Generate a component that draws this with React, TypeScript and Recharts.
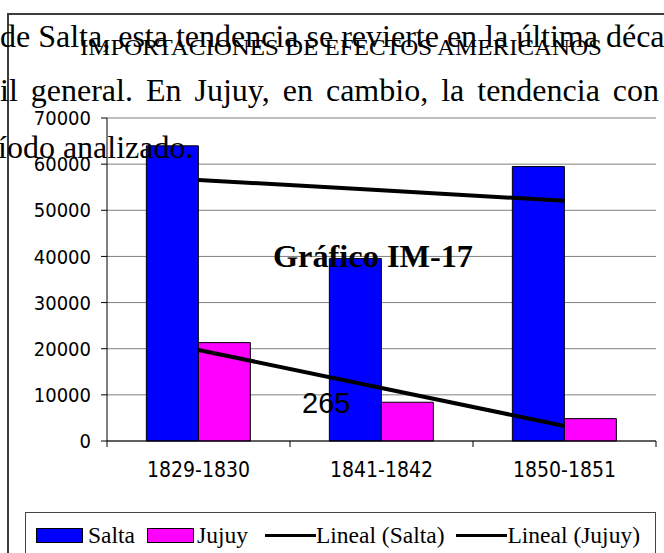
import { ComposedChart, Bar, Line, XAxis, YAxis, CartesianGrid, Legend } from "recharts";

// values
const periods = ["1829-1830", "1841-1842", "1850-1851"];
const salta = [63970, 39530, 59470];
const jujuy = [21320, 8400, 4850];
const linealSalta = [56570, 54320, 52070];
const linealJujuy = [19735, 11500, 3265];
const yTicks = [0, 10000, 20000, 30000, 40000, 50000, 60000, 70000];

const data = periods.map((period, i) => ({
  period,
  salta: salta[i],
  jujuy: jujuy[i],
  linealSalta: linealSalta[i],
  linealJujuy: linealJujuy[i],
}));

const serif = "'Liberation Serif', 'Times New Roman', serif";
const tickFont = {
  fill: "#000",
  fontSize: 20,
  fontFamily: "'DejaVu Sans Condensed', 'DejaVu Sans', sans-serif",
  fontStretch: "condensed",
};
const TICK_MARGIN = 21;

// category label plus the small tick marks that sit between categories
const CategoryTick = (props: any) => {
  const { x, y, payload, index, visibleTicksCount } = props;
  const axisY = y - TICK_MARGIN;
  const half = payload.offset || 0;
  return (
    <g>
      <line x1={x - half} x2={x - half} y1={axisY} y2={axisY + 6} stroke="#000" />
      {index === visibleTicksCount - 1 && (
        <line x1={x + half} x2={x + half} y1={axisY} y2={axisY + 6} stroke="#000" />
      )}
      <text x={x} y={y} dy="0.71em" textAnchor="middle" {...tickFont} fontSize={21}>
        {payload.value}
      </text>
    </g>
  );
};

const LegendBox = () => {
  const swatch = (color: string) => (
    <span style={{ display: "inline-block", width: 45, height: 13, background: color, border: "1px solid #000" }} />
  );
  const dash = <span style={{ display: "inline-block", width: 51, height: 3, background: "#000" }} />;
  const item = { display: "flex", alignItems: "center", whiteSpace: "nowrap" as const, flexShrink: 0 };
  return (
    <div
      style={{
        height: 60,
        boxSizing: "border-box",
        border: "1px solid #444",
        display: "flex",
        alignItems: "flex-start",
        paddingLeft: 10,
        paddingTop: 10,
        fontFamily: serif,
        fontSize: 23.5,
        lineHeight: "24px",
        color: "#000",
        whiteSpace: "nowrap",
        overflow: "hidden",
      }}
    >
      <div style={{ ...item, gap: 5, marginRight: 12 }}>{swatch("#0000FF")}<span>Salta</span></div>
      <div style={{ ...item, gap: 3, marginRight: 17 }}>{swatch("#FF00FF")}<span>Jujuy</span></div>
      <div style={{ ...item, marginRight: 12 }}>{dash}<span>Lineal (Salta)</span></div>
      <div style={item}>{dash}<span>Lineal (Jujuy)</span></div>
    </div>
  );
};

export default function App() {
  return (
    <div style={{ position: "absolute", left: 0, top: 0, width: 664, height: 553, overflow: "hidden", background: "#fff" }}>
      <div style={{ position: "absolute", left: 7, top: 13, width: 700, height: 600, border: "2px solid #3c3c3c" }} />
      <div style={{ position: "absolute", left: 8, top: 14 }}>
        <ComposedChart
          width={670}
          height={560}
          data={data}
          margin={{ top: 104, right: 22, left: 0, bottom: 13 }}
          barGap={0}
          barCategoryGap="21.5%"
        >
          <CartesianGrid vertical={false} stroke="#808080" strokeWidth={1} />
          <XAxis
            dataKey="period"
            height={60}
            axisLine={{ stroke: "#000" }}
            tickLine={false}
            tickSize={0}
            tickMargin={TICK_MARGIN}
            tick={<CategoryTick />}
            interval={0}
          />
          <YAxis
            width={99}
            domain={[0, 70000]}
            ticks={yTicks}
            interval={0}
            tickSize={6}
            tickMargin={10}
            tick={tickFont}
            axisLine={{ stroke: "#000" }}
            tickLine={{ stroke: "#000" }}
          />
          <Legend
            content={<LegendBox />}
            wrapperStyle={{ left: 17, top: 498, width: 631, height: 60 }}
          />
          <Bar dataKey="salta" name="Salta" fill="#0000FF" stroke="#000" strokeWidth={1} isAnimationActive={false} />
          <Bar dataKey="jujuy" name="Jujuy" fill="#FF00FF" stroke="#000" strokeWidth={1} isAnimationActive={false} />
          <Line type="linear" dataKey="linealSalta" name="Lineal (Salta)" stroke="#000" strokeWidth={4} dot={false} activeDot={false} isAnimationActive={false} />
          <Line type="linear" dataKey="linealJujuy" name="Lineal (Jujuy)" stroke="#000" strokeWidth={4} dot={false} activeDot={false} isAnimationActive={false} />
        </ComposedChart>
      </div>
      <svg width={664} height={553} style={{ position: "absolute", left: 0, top: 0, pointerEvents: "none" }}>
        <text x={80} y={55} fontFamily={serif} fontSize={24} fill="#000" textLength={522} lengthAdjust="spacingAndGlyphs">
          IMPORTACIONES DE EFECTOS AMERICANOS
        </text>
        <g fontFamily={serif} fontSize={32} fill="#000">
          <text x={0} y={47}>de Salta, esta tendencia se revierte en la última déca</text>
          <text x={0} y={101} wordSpacing={5}>il general. En Jujuy, en cambio, la tendencia con</text>
          <text x={-2} y={158}>íodo analizado.</text>
        </g>
        <text x={273} y={267} fontFamily={serif} fontWeight="bold" fontSize={32} fill="#000" textLength={200} lengthAdjust="spacingAndGlyphs">
          Gráfico IM-17
        </text>
        <text x={302} y={413} fontFamily="'Liberation Sans', Arial, sans-serif" fontSize={29} fill="#000">
          265
        </text>
      </svg>
    </div>
  );
}
